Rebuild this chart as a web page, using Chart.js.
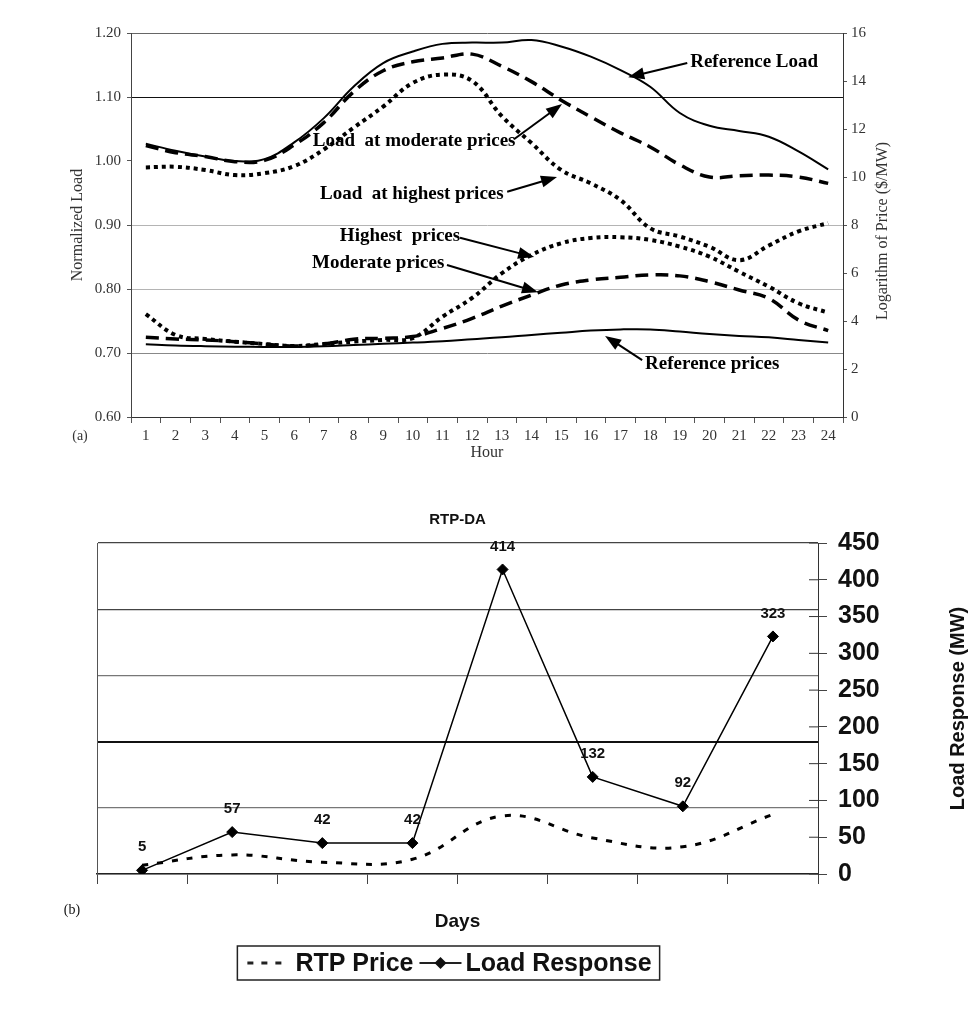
<!DOCTYPE html>
<html>
<head>
<meta charset="utf-8">
<title>Load response to prices</title>
<script src="https://cdn.jsdelivr.net/npm/chart.js@4.4.0/dist/chart.umd.min.js"></script>
<style>
  body { margin: 0; background: #fff; }
  #wrapA { position: absolute; left: 0; top: 0; width: 973px; height: 470px; }
  #wrapB { position: absolute; left: 0; top: 470px; width: 973px; height: 550px; }
</style>
</head>
<body>
<div id="wrapA"><canvas id="chartA"></canvas></div>
<div id="wrapB"><canvas id="chartB"></canvas></div>
<script>
// (a) hourly profiles
var hours = [1, 2, 3, 4, 5, 6, 7, 8, 9, 10, 11, 12, 13, 14, 15, 16, 17, 18, 19, 20, 21, 22, 23, 24];
var refLoad  = [1.027, 1.016, 1.007, 1.000, 1.003, 1.029, 1.067, 1.116, 1.153, 1.171, 1.183, 1.185, 1.185, 1.189, 1.179, 1.163, 1.142, 1.116, 1.075, 1.055, 1.047, 1.038, 1.015, 0.987];
var modLoad  = [1.024, 1.013, 1.007, 0.999, 1.001, 1.025, 1.060, 1.108, 1.141, 1.155, 1.161, 1.167, 1.148, 1.124, 1.095, 1.069, 1.044, 1.022, 0.994, 0.975, 0.977, 0.978, 0.975, 0.965];
var highLoad = [0.990, 0.991, 0.986, 0.978, 0.981, 0.992, 1.018, 1.052, 1.085, 1.122, 1.135, 1.125, 1.070, 1.028, 0.986, 0.965, 0.939, 0.895, 0.882, 0.866, 0.845, 0.868, 0.890, 0.903];
var refPrice  = [3.03, 2.98, 2.95, 2.93, 2.92, 2.92, 2.95, 3.00, 3.05, 3.10, 3.16, 3.24, 3.32, 3.42, 3.51, 3.60, 3.65, 3.65, 3.56, 3.46, 3.38, 3.32, 3.21, 3.10];
var modPrice  = [3.32, 3.25, 3.21, 3.14, 3.04, 2.96, 3.04, 3.24, 3.28, 3.35, 3.69, 4.11, 4.62, 5.08, 5.50, 5.71, 5.82, 5.92, 5.88, 5.64, 5.29, 4.94, 4.04, 3.60];
var highPrice = [4.29, 3.42, 3.25, 3.14, 3.04, 2.96, 3.04, 3.14, 3.21, 3.29, 4.18, 4.96, 5.99, 6.75, 7.24, 7.46, 7.49, 7.38, 7.10, 6.68, 6.05, 5.43, 4.74, 4.35];

// (b) RTP-DA by day
var days = [1, 2, 3, 4, 5, 6, 7, 8];
var rtpPrice = [12, 26, 16, 20, 79, 49, 37, 81];
var loadResponse = [5, 57, 42, 42, 414, 132, 92, 323];

var serif = '"Liberation Serif", "Times New Roman", serif';
var sans = '"Liberation Sans", Arial, sans-serif';

// text labels with arrows, placed in (hour, normalized load) units
var notesA = [
  { text: 'Reference Load', x: 19.35, y: 1.155, from: [19.25, 1.153], to: [17.26, 1.131] },
  { text: 'Load  at moderate prices', x: 6.63, y: 1.031, from: [13.41, 1.034], to: [15.03, 1.089] },
  { text: 'Load  at highest prices', x: 6.87, y: 0.948, from: [13.18, 0.952], to: [14.86, 0.975] },
  { text: 'Highest  prices', x: 7.54, y: 0.883, from: [11.59, 0.880], to: [14.09, 0.850] },
  { text: 'Moderate prices', x: 6.6, y: 0.841, from: [11.15, 0.8375], to: [14.22, 0.795] },
  { text: 'Reference prices', x: 17.83, y: 0.683, from: [17.73, 0.689], to: [16.48, 0.7266] }
];

function arrow(ctx, x1, y1, x2, y2) {
  var a = Math.atan2(y2 - y1, x2 - x1), L = 16, W = 6;
  ctx.beginPath();
  ctx.moveTo(x1, y1);
  ctx.lineTo(x2 - L * 0.6 * Math.cos(a), y2 - L * 0.6 * Math.sin(a));
  ctx.stroke();
  ctx.beginPath();
  ctx.moveTo(x2, y2);
  ctx.lineTo(x2 - L * Math.cos(a) + W * Math.sin(a), y2 - L * Math.sin(a) - W * Math.cos(a));
  ctx.lineTo(x2 - L * Math.cos(a) - W * Math.sin(a), y2 - L * Math.sin(a) + W * Math.cos(a));
  ctx.closePath();
  ctx.fill();
}

function vText(ctx, text, x, y) {
  ctx.save();
  ctx.translate(x, y);
  ctx.rotate(-Math.PI / 2);
  ctx.textAlign = 'center';
  ctx.textBaseline = 'middle';
  ctx.fillText(text, 0, 0);
  ctx.restore();
}

var decorA = {
  id: 'decorA',
  afterDatasetsDraw: function (chart) {
    var ctx = chart.ctx, xs = chart.scales.x, ys = chart.scales.y, area = chart.chartArea;
    var px = function (h) { return xs.getPixelForValue(h - 1); };
    ctx.save();
    ctx.fillStyle = '#000';
    ctx.strokeStyle = '#000';
    ctx.lineWidth = 2;
    ctx.font = 'bold 19px ' + serif;
    ctx.textBaseline = 'middle';
    ctx.textAlign = 'left';
    notesA.forEach(function (n) {
      ctx.fillText(n.text, px(n.x), ys.getPixelForValue(n.y));
      arrow(ctx, px(n.from[0]), ys.getPixelForValue(n.from[1]), px(n.to[0]), ys.getPixelForValue(n.to[1]));
    });
    ctx.fillStyle = '#333';
    ctx.font = '16px ' + serif;
    vText(ctx, 'Normalized Load', area.left - 53, (area.top + area.bottom) / 2);
    ctx.font = '16px ' + serif;
    vText(ctx, 'Logarithm of Price ($/MW)', area.right + 40, (area.top + area.bottom) / 2 + 6);
    ctx.textAlign = 'center';
    ctx.fillText('Hour', (area.left + area.right) / 2, area.bottom + 36);
    ctx.font = '14px ' + serif;
    ctx.fillText('(a)', 80, area.bottom + 19);
    ctx.restore();
  }
};

function lineSet(label, data, axis, dash, width) {
  return {
    label: label, data: data, yAxisID: axis,
    borderColor: '#000', backgroundColor: '#000',
    borderWidth: width, borderDash: dash, borderCapStyle: 'butt',
    pointRadius: 0, tension: 0.4, fill: false
  };
}

new Chart(document.getElementById('chartA'), {
  type: 'line',
  data: {
    labels: hours,
    datasets: [
      lineSet('Reference Load', refLoad, 'y', [], 2),
      lineSet('Load at moderate prices', modLoad, 'y', [13, 7], 3.5),
      lineSet('Load at highest prices', highLoad, 'y', [4, 4], 4),
      lineSet('Reference prices', refPrice, 'y1', [], 2),
      lineSet('Moderate prices', modPrice, 'y1', [13, 7], 3.5),
      lineSet('Highest prices', highPrice, 'y1', [4, 4], 4)
    ]
  },
  options: {
    responsive: true,
    maintainAspectRatio: false,
    animation: false,
    layout: { padding: { top: 33, left: 0, right: 0, bottom: 0 } },
    plugins: { legend: { display: false }, tooltip: { enabled: false } },
    scales: {
      x: {
        offset: true,
        grid: { offset: true, drawOnChartArea: false, tickLength: 6, color: '#555' },
        border: { color: '#333' },
        ticks: { color: '#333', padding: 4, maxRotation: 0, font: { family: serif, size: 15 } },
        afterFit: function (s) { s.height = 53; }
      },
      y: {
        position: 'left', min: 0.6, max: 1.2,
        ticks: {
          stepSize: 0.1, color: '#333', padding: 6, font: { family: serif, size: 15 },
          callback: function (v) { return v.toFixed(2); }
        },
        grid: {
          tickLength: 4, tickColor: '#555',
          color: function (c) {
            var v = Math.round(c.tick.value * 100);
            if (v === 110) return '#111';
            if (v === 100) return 'rgba(0,0,0,0)';
            if (v === 120) return '#666';
            if (v === 70) return '#888';
            return '#b4b4b4';
          }
        },
        border: { color: '#444' },
        afterFit: function (s) { s.width = 131; }
      },
      y1: {
        position: 'right', min: 0, max: 16,
        ticks: { stepSize: 2, color: '#333', padding: 4, font: { family: serif, size: 15 } },
        grid: { drawOnChartArea: false, tickLength: 4, color: '#555' },
        border: { color: '#333' },
        afterFit: function (s) { s.width = 130; }
      }
    }
  },
  plugins: [decorA]
});

var decorB = {
  id: 'decorB',
  afterDatasetsDraw: function (chart) {
    var ctx = chart.ctx, area = chart.chartArea, ry = chart.scales.y1;
    var cx = (area.left + area.right) / 2;
    ctx.save();
    ctx.fillStyle = '#111';
    ctx.strokeStyle = '#333';
    ctx.lineWidth = 1;
    // inner half of the right tick marks
    ry.ticks.forEach(function (t) {
      var y = ry.getPixelForValue(t.value);
      ctx.beginPath(); ctx.moveTo(area.right - 9, y); ctx.lineTo(area.right, y); ctx.stroke();
    });
    ctx.textAlign = 'center';
    ctx.textBaseline = 'middle';
    ctx.font = 'bold 15px ' + sans;
    ctx.fillText('RTP-DA', cx, area.top - 23);
    chart.getDatasetMeta(1).data.forEach(function (p, i) {
      ctx.fillText(String(loadResponse[i]), p.x, p.y - 23);
    });
    ctx.font = 'bold 19px ' + sans;
    ctx.fillText('Days', cx, area.bottom + 48);
    ctx.font = 'bold 20px ' + sans;
    vText(ctx, 'Load Response (MW)', area.right + 140, (area.top + area.bottom) / 2);
    ctx.font = '14px ' + serif;
    ctx.fillText('(b)', 72, area.bottom + 36);

    // legend
    var ds = chart.data.datasets;
    ctx.font = 'bold 25px ' + sans;
    var w1 = ctx.measureText(ds[0].label).width, w2 = ctx.measureText(ds[1].label).width;
    var boxW = 10 + 40 + 8 + w1 + 6 + 42 + 4 + w2 + 8;
    var left = cx - 9 - boxW / 2, ly = area.bottom + 89;
    ctx.strokeStyle = '#222';
    ctx.lineWidth = 1.5;
    ctx.strokeRect(left, ly - 17, boxW, 34);
    var x = left + 10;
    ctx.lineWidth = 3;
    ctx.setLineDash([6, 8]);
    ctx.beginPath(); ctx.moveTo(x, ly); ctx.lineTo(x + 40, ly); ctx.stroke();
    ctx.setLineDash([]);
    x += 48;
    ctx.textAlign = 'left';
    ctx.fillText(ds[0].label, x, ly + 1);
    x += w1 + 6;
    ctx.lineWidth = 2;
    ctx.beginPath(); ctx.moveTo(x, ly); ctx.lineTo(x + 42, ly); ctx.stroke();
    ctx.beginPath();
    ctx.moveTo(x + 21, ly - 6); ctx.lineTo(x + 27, ly); ctx.lineTo(x + 21, ly + 6); ctx.lineTo(x + 15, ly);
    ctx.closePath(); ctx.fill();
    x += 46;
    ctx.fillText(ds[1].label, x, ly + 1);
    ctx.restore();
  }
};

new Chart(document.getElementById('chartB'), {
  type: 'line',
  data: {
    labels: days,
    datasets: [
      {
        label: 'RTP Price', data: rtpPrice, yAxisID: 'y',
        borderColor: '#000', borderWidth: 3, borderDash: [6, 9], borderCapStyle: 'butt',
        pointRadius: 0, tension: 0.4, fill: false
      },
      {
        label: 'Load Response', data: loadResponse, yAxisID: 'y1',
        borderColor: '#000', backgroundColor: '#000', borderWidth: 1.5,
        pointStyle: 'rectRot', pointRadius: 5.5, pointBorderWidth: 1, tension: 0, fill: false
      }
    ]
  },
  options: {
    responsive: true,
    maintainAspectRatio: false,
    animation: false,
    layout: { padding: { top: 73, left: 0, right: 0, bottom: 0 } },
    plugins: { legend: { display: false }, tooltip: { enabled: false } },
    scales: {
      x: {
        offset: true,
        grid: { offset: true, drawOnChartArea: false, tickLength: 10, color: '#444' },
        border: { color: '#222', width: 1.5 },
        ticks: { display: false },
        afterFit: function (s) { s.height = 146; }
      },
      y: {
        position: 'left', min: 0, max: 450,
        ticks: { display: false, stepSize: 90 },
        grid: {
          drawTicks: false,
          color: function (c) {
            var v = c.tick.value;
            if (v === 180) return '#111';
            if (v === 360 || v === 450) return '#444';
            return '#777';
          },
          lineWidth: function (c) { return c.tick.value === 180 ? 2 : 1.3; }
        },
        border: { color: '#555' },
        afterFit: function (s) { s.width = 97; }
      },
      y1: {
        position: 'right', min: 0, max: 450,
        ticks: { stepSize: 50, color: '#111', padding: 11, font: { family: sans, size: 25, weight: 'bold' } },
        grid: { drawOnChartArea: false, tickLength: 9, color: '#444' },
        border: { color: '#333' },
        afterFit: function (s) { s.width = 155; }
      }
    }
  },
  plugins: [decorB]
});
</script>
</body>
</html>
